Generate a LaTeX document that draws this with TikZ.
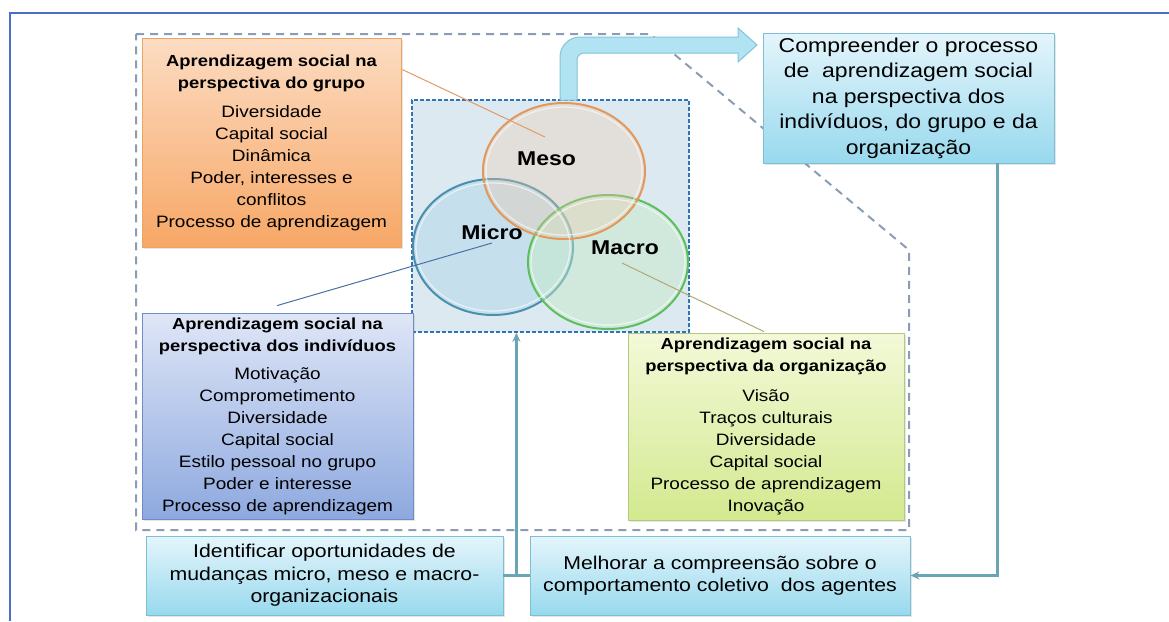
\documentclass[tikz,border=0pt]{standalone}
\usepackage{fontspec}
\setmainfont{Liberation Sans}[FakeStretch=1.15]
\usetikzlibrary{shapes.geometric,arrows.meta,calc,shadows}
\definecolor{frameblue}{HTML}{4A6FC8}
\definecolor{dashgray}{HTML}{8A9DB5}
\definecolor{innerfill}{HTML}{DCE9F1}
\definecolor{innerdash}{HTML}{2F75B5}
\definecolor{orTop}{HTML}{FCDCC2}\definecolor{orBot}{HTML}{F7A766}\definecolor{orDraw}{HTML}{E9A468}
\definecolor{blTop}{HTML}{DFE6F7}\definecolor{blBot}{HTML}{8EA9DF}\definecolor{blDraw}{HTML}{6E8CC8}
\definecolor{grTop}{HTML}{F3F9D8}\definecolor{grBot}{HTML}{D3E98F}\definecolor{grDraw}{HTML}{B3C97E}
\definecolor{cyTop}{HTML}{E4F5FB}\definecolor{cyBot}{HTML}{98D9EE}\definecolor{cyDraw}{HTML}{7DBFD3}
\definecolor{conn}{HTML}{6AA5B5}
\definecolor{mesoDraw}{HTML}{E3975A}\definecolor{mesoFill}{HTML}{F0C8A8}
\definecolor{microDraw}{HTML}{4A90AE}\definecolor{microFill}{HTML}{A9D3E6}
\definecolor{macroDraw}{HTML}{5CBF5C}\definecolor{macroFill}{HTML}{C5EBC5}
\definecolor{arrFill}{HTML}{B2E3F2}\definecolor{arrDraw}{HTML}{80C5DA}
\definecolor{leadOr}{HTML}{E39A66}\definecolor{leadBl}{HTML}{4D6FA3}\definecolor{leadGr}{HTML}{B0A872}
\newcommand\ttl[1]{\textbf{\fontsize{16}{22.5}\selectfont #1}}
\begin{document}
\begin{tikzpicture}[x=1pt,y=-1pt,
  box/.style={draw, line width=0.8pt, inner sep=0pt, align=center, text=black,
              drop shadow={shadow xshift=1.5pt, shadow yshift=-1.5pt, opacity=0.2}},
  itemfont/.style={font=\fontsize{16.5}{22}\selectfont},
  cyan box/.style={box, top color=cyTop, bottom color=cyBot, draw=cyDraw},
  venn/.style={ellipse, line width=2pt, inner sep=0pt},
  gloss/.style={ellipse, draw=white, draw opacity=0.6, line width=1.2pt, inner sep=0pt},
  lbl/.style={font=\bfseries\fontsize{20}{24}\selectfont, inner sep=0pt},
  connector/.style={draw=conn, line width=2.2pt},
  leader/.style={line width=1pt}]
\useasboundingbox (0,0) rectangle (1169,621);
\fill[white] (0,0) rectangle (1169,621);
% frame
\draw[frameblue, line width=1.5pt] (10,621) -- (10,13) -- (1169,13);
% outer dashed region
\draw[dashgray, line width=2pt, dash pattern=on 8pt off 6pt]
  (136,34) -- (650,34) -- (909,250) -- (909,530) -- (136,530) -- cycle;
% inner box
\node[draw=innerdash, fill=innerfill, line width=1.5pt, dash pattern=on 4pt off 2pt,
      minimum width=277pt, minimum height=232pt, inner sep=0pt] (inner) at (550.5,216) {};
% bent arrow
\filldraw[fill=arrFill, draw=arrDraw, line width=1pt]
  (560,100) -- (560,57) .. controls (560,46) and (569,37) .. (580,37) -- (738,37)
  -- (738,28) -- (757,45) -- (738,62) -- (738,53) -- (584,53)
  .. controls (580,53) and (577,56) .. (577,60) -- (577,100) -- cycle;
% venn
\node[venn, draw=microDraw, fill=microFill, fill opacity=0.45, minimum width=160pt, minimum height=136pt] (micro) at (493,247) {};
\node[venn, draw=macroDraw, fill=macroFill, fill opacity=0.45, minimum width=160pt, minimum height=134pt] (macro) at (608,262) {};
\node[venn, draw=mesoDraw, fill=mesoFill, fill opacity=0.32, minimum width=162pt, minimum height=136pt] (meso) at (564,171) {};
\node[gloss, minimum width=154pt, minimum height=128pt] (gmicro) at (micro) {};
\node[gloss, minimum width=154pt, minimum height=126pt] (gmacro) at (macro) {};
\node[gloss, minimum width=156pt, minimum height=128pt] (gmeso) at (meso) {};
\node[lbl] (lmeso) at (546.5,159) {Meso};
\node[lbl] (lmicro) at (492,232) {Micro};
\node[lbl] (lmacro) at (625,248) {Macro};
% boxes
\node[box, itemfont, top color=orTop, bottom color=orBot, draw=orDraw,
      minimum width=259pt, minimum height=209pt] (grp) at (271.5,142.5)
  {\ttl{Aprendizagem social na}\\\ttl{perspectiva do grupo}\\[7pt]
   Diversidade\\Capital social\\Dinâmica\\Poder, interesses e\\conflitos\\Processo de aprendizagem};
\node[box, itemfont, top color=blTop, bottom color=blBot, draw=blDraw,
      minimum width=271pt, minimum height=206pt] (ind) at (277.5,416)
  {\ttl{Aprendizagem social na}\\\ttl{perspectiva dos indivíduos}\\[6pt]
   Motivação\\Comprometimento\\Diversidade\\Capital social\\Estilo pessoal no grupo\\Poder e interesse\\Processo de aprendizagem};
\node[box, itemfont, top color=grTop, bottom color=grBot, draw=grDraw,
      minimum width=276pt, minimum height=187pt] (org) at (766,426.5)
  {\ttl{Aprendizagem social na}\\\ttl{perspectiva da organização}\\[8pt]
   Visão\\Traços culturais\\Diversidade\\Capital social\\Processo de aprendizagem\\Inovação};
\node[cyan box, font=\fontsize{20}{25.5}\selectfont, minimum width=291pt, minimum height=130pt] (comp) at (908.5,98)
  {Compreender o processo\\de~ aprendizagem social\\na perspectiva dos\\indivíduos, do grupo e da\\organização};
\node[cyan box, font=\fontsize{18.5}{22.5}\selectfont, minimum width=357pt, minimum height=79pt] (ident) at (324.5,575.5)
  {Identificar oportunidades de\\mudanças micro, meso e macro-\\organizacionais};
\node[cyan box, font=\fontsize{18.5}{22.5}\selectfont, minimum width=380pt, minimum height=79pt] (melh) at (720,575.5)
  {Melhorar a compreensão sobre o\\comportamento coletivo~ dos agentes};
% leader lines
\draw[leader, leadOr] ($(grp.north east)+(1,32)$) -- ($(meso.center)+(-19,-34)$);
\draw[leader, leadBl] ($(ind.north)+(-0.5,-7)$) -- ($(micro.center)+(-1,-4)$);
\draw[leader, leadGr] ($(macro.center)+(14,1)$) -- ($(org.north)+(-2,-1)$);
% connectors
\coordinate (J) at ($(ident.east)+(13,0)$);
\draw[connector] (ident.east) -- (melh.west);
\draw[connector, -{Stealth[length=9pt,width=8pt]}] (J) -- (J |- inner.south);
\coordinate (C) at ($(comp.south east)+(-57,0)$);
\draw[connector, -{Stealth[length=9pt,width=8pt]}] (C) |- (melh.east);
\end{tikzpicture}
\end{document}
